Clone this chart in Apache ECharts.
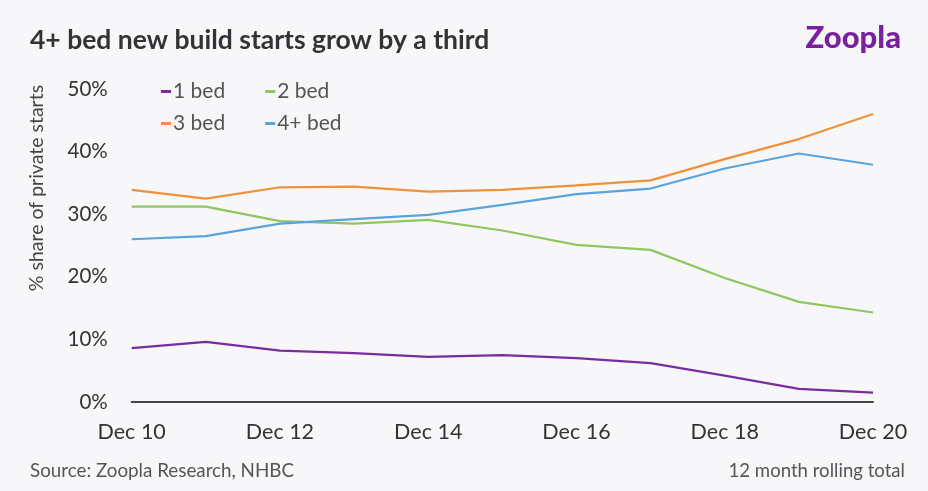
<!DOCTYPE html>
<html>
<head>
<meta charset="utf-8">
<script src="https://cdn.jsdelivr.net/npm/echarts@6/dist/echarts.min.js"></script>
<style>
html,body{margin:0;padding:0;background:#f7f7f9;}
#chart{width:928px;height:491px;}
</style>
</head>
<body>
<div id="chart"></div>
<script>
const categories = ['Dec 10','Dec 11','Dec 12','Dec 13','Dec 14','Dec 15','Dec 16','Dec 17','Dec 18','Dec 19','Dec 20'];
const bed1 = [8.6, 9.6, 8.2, 7.8, 7.2, 7.5, 7.0, 6.2, 4.2, 2.1, 1.5];
const bed2 = [31.2, 31.2, 28.9, 28.5, 29.1, 27.4, 25.1, 24.3, 19.8, 16.0, 14.3];
const bed3 = [33.9, 32.5, 34.3, 34.4, 33.6, 33.9, 34.6, 35.4, 38.8, 42.0, 46.0];
const bed4 = [26.0, 26.5, 28.5, 29.2, 29.9, 31.5, 33.2, 34.1, 37.3, 39.7, 37.9];
const yTicks = [0, 10, 20, 30, 40, 50];

const FONT = 'Lato, "Noto Sans", sans-serif';
const colors = { b1:'#7a2c9e', b2:'#8fc660', b3:'#ee913a', b4:'#5aa3dd' };

const chart = echarts.init(document.getElementById('chart'));
const legendText = { fontFamily: FONT, fontSize: 21, color: '#555', padding: [0, 0, 0, -3] };
chart.setOption({
  backgroundColor: '#f7f7f9',
  animation: false,
  textStyle: { fontFamily: FONT },
  grid: { left: 131.7, right: 55, top: 89, bottom: 89, containLabel: false },
  legend: [
    { data: ['1 bed','2 bed'], left: 156, top: 76, icon: 'rect', itemWidth: 10, itemHeight: 3, itemGap: 40, textStyle: legendText },
    { data: ['3 bed','4+ bed'], left: 156, top: 108, icon: 'rect', itemWidth: 10, itemHeight: 3, itemGap: 40, textStyle: legendText }
  ],
  xAxis: {
    type: 'category',
    data: categories,
    boundaryGap: false,
    axisLine: { show: true, lineStyle: { color: '#444', width: 2 } },
    axisTick: { show: false },
    axisLabel: { interval: 1, margin: 19, fontSize: 21.5, color: '#333', fontFamily: FONT },
    splitLine: { show: false }
  },
  yAxis: {
    type: 'value',
    min: yTicks[0],
    max: yTicks[yTicks.length - 1],
    interval: 10,
    axisLine: { show: false },
    axisTick: { show: false },
    splitLine: { show: false },
    axisLabel: { formatter: '{value}%', margin: 24, fontSize: 20.5, color: '#333', fontFamily: FONT }
  },
  graphic: [
    { type: 'text', left: 30, top: 27, style: { text: '4+ bed new build starts grow by a third', font: 'bold 26.5px ' + FONT, fill: '#333' } },
    { type: 'text', right: 27, top: 22, style: { text: 'Zoopla', font: '900 31px ' + FONT, fill: '#7a1fa0' } },
    { type: 'text', x: 37, y: 188, rotation: Math.PI / 2, style: { text: '% share of private starts', font: '19.5px ' + FONT, fill: '#444', align: 'center', verticalAlign: 'middle' } },
    { type: 'text', left: 30, top: 461, style: { text: 'Source: Zoopla Research, NHBC', font: '18.8px ' + FONT, fill: '#555' } },
    { type: 'text', right: 23, top: 461, style: { text: '12 month rolling total', font: '18.6px ' + FONT, fill: '#555' } }
  ],
  series: [
    { name: '1 bed', type: 'line', data: bed1, symbol: 'none', lineStyle: { width: 2.2, color: colors.b1 }, itemStyle: { color: colors.b1 } },
    { name: '2 bed', type: 'line', data: bed2, symbol: 'none', lineStyle: { width: 2.2, color: colors.b2 }, itemStyle: { color: colors.b2 } },
    { name: '3 bed', type: 'line', data: bed3, symbol: 'none', lineStyle: { width: 2.2, color: colors.b3 }, itemStyle: { color: colors.b3 } },
    { name: '4+ bed', type: 'line', data: bed4, symbol: 'none', lineStyle: { width: 2.2, color: colors.b4 }, itemStyle: { color: colors.b4 } }
  ]
});
</script>
</body>
</html>
